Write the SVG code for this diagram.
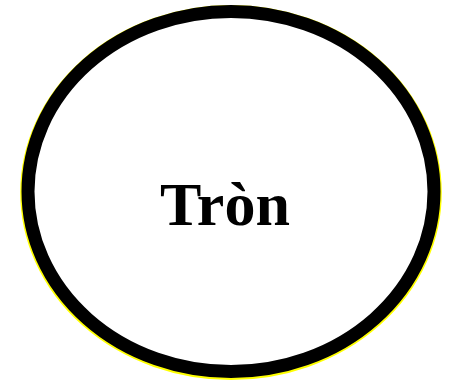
<svg xmlns="http://www.w3.org/2000/svg" width="450" height="380" viewBox="0 0 450 380">
<style>
.lbl{font-family:"Liberation Serif","Times New Roman",serif;font-weight:bold;font-size:62px;fill:#000}
</style>
<rect width="450" height="380" fill="#fff"/>
<g id="node-tron">
<ellipse cx="231" cy="192.5" rx="203.8" ry="180.5" fill="none" stroke="#ffff00" stroke-width="14"/>
<ellipse cx="231" cy="191.5" rx="203" ry="180" fill="#fff" stroke="#000" stroke-width="13"/>
<text class="lbl" x="225" y="225" text-anchor="middle">Tròn</text>
</g>
<g id="connectors"/>
</svg>
